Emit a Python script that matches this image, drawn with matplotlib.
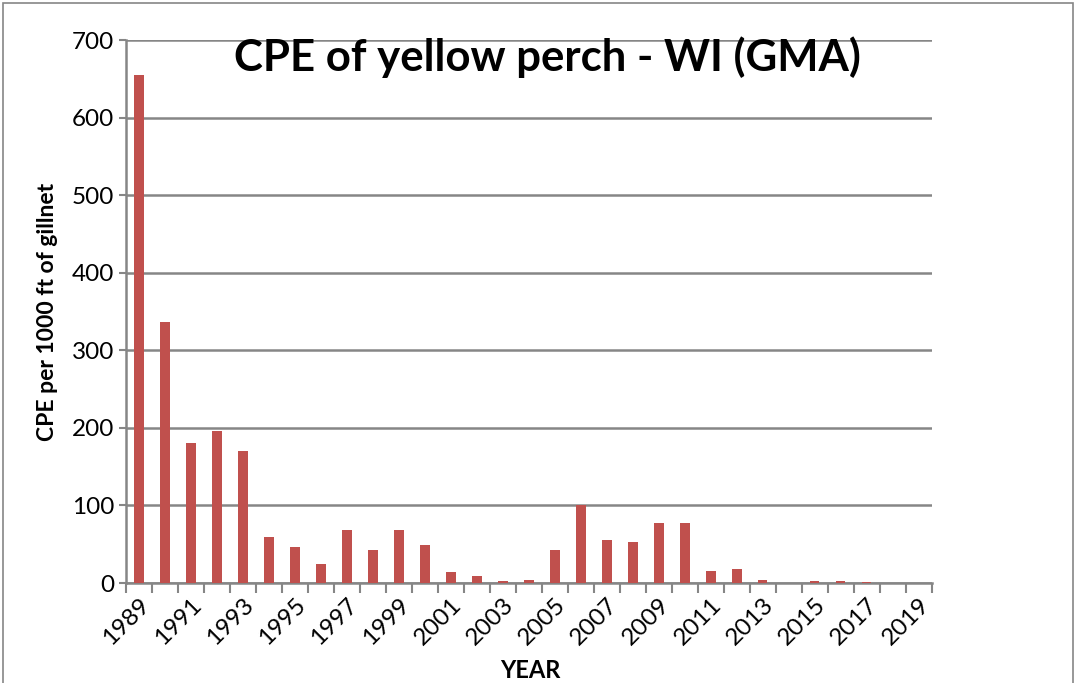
import matplotlib.pyplot as plt
import matplotlib.patches as patches
import numpy as np

plt.rcParams['font.family'] = ['Lato', 'DejaVu Sans']

years = list(range(1989, 2020))
cpe = [655, 337, 181, 196, 170, 59, 47, 25, 68, 43, 68, 49, 14, 9, 3, 4,
       42, 100, 56, 53, 78, 78, 16, 18.5, 4, 0, 3, 2, 1.5, 0, 0]

fig = plt.figure(figsize=(10.77, 6.83), dpi=100)
ax = fig.add_axes([0.117, 0.1464, 0.748, 0.795])

x = np.arange(len(years))
ax.bar(x, cpe, width=0.37, color='#c0504d', zorder=3)

ax.set_xlim(-0.5, len(years) - 0.5)
ax.set_ylim(0, 700)
ax.set_yticks(range(0, 701, 100))
ax.tick_params(axis='y', labelsize=17.5, length=5, color='#868686', width=1.5)
ax.grid(axis='y', color='#868686', linewidth=1.8, zorder=0)

# ticks at category boundaries, labels on every other year
ax.set_xticks(np.arange(-0.5, len(years), 1.0), minor=False)
ax.set_xticklabels([])
ax.tick_params(axis='x', which='major', length=7, color='#868686', width=1.5)
ax.set_xticks(x[::2], minor=True)
ax.set_xticklabels([str(y) for y in years[::2]], minor=True, rotation=45,
                   ha='right', rotation_mode='anchor', fontsize=17.5)
ax.tick_params(axis='x', which='minor', length=0, pad=8)

for s in ['top', 'right']:
    ax.spines[s].set_visible(False)
for s in ['left', 'bottom']:
    ax.spines[s].set_color('#868686')
    ax.spines[s].set_linewidth(1.8)

ax.set_ylabel('CPE per 1000 ft of gillnet', fontsize=16.5, fontweight='bold', labelpad=10)
fig.text(0.492, 0.008, 'YEAR', fontsize=17, fontweight='bold', ha='center')
fig.text(0.508, 0.917, 'CPE of yellow perch - WI (GMA)', fontsize=31.5,
         fontweight='bold', ha='center', va='center')

fig.patches.append(patches.Rectangle((0.003, -0.01), 0.993, 1.005, transform=fig.transFigure,
                                     fill=False, edgecolor='#868686', linewidth=1.2))

fig.savefig('out.png', dpi=100)
